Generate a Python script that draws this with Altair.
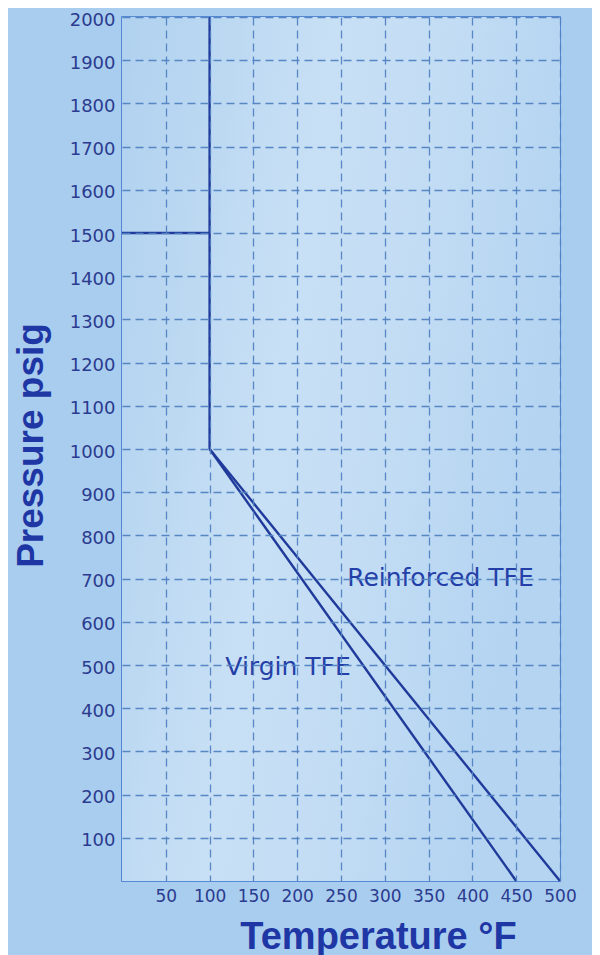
import altair as alt
import pandas as pd

# Pressure–temperature rating curves
seg_names = ["Limit", "Limit", "Cap", "Cap", "Virgin TFE", "Virgin TFE", "Reinforced TFE", "Reinforced TFE"]
seg_temp = [100, 100, 0, 100, 100, 450, 100, 500]
seg_pressure = [2000, 1000, 1500, 1500, 1000, 0, 1000, 0]
seg_order = [0, 1, 0, 1, 0, 1, 0, 1]

label_text = ["Reinforced TFE", "Virgin TFE"]
label_temp = [257, 118]
label_pressure = [684, 478]

x_ticks = [50, 100, 150, 200, 250, 300, 350, 400, 450, 500]
y_ticks = list(range(100, 2001, 100))

df = pd.DataFrame({"seg": seg_names, "temp": seg_temp, "pressure": seg_pressure, "o": seg_order})
lab = pd.DataFrame({"text": label_text, "temp": label_temp, "pressure": label_pressure})

label_color = "#2b3b8f"
title_color = "#1f36a5"
line_color = "#1f3a9a"
grid_color = "#5282c2"

x_scale = alt.Scale(domain=[0, 500], nice=False, zero=True)
y_scale = alt.Scale(domain=[0, 2000], nice=False, zero=True)

x_axis = alt.Axis(
    values=x_ticks, title="Temperature °F", domain=False, ticks=False, format="d",
    grid=True, gridColor=grid_color, gridDash=[8, 5], gridWidth=1.3, gridOpacity=0.95,
    labelFont="DejaVu Sans", labelFontSize=17, labelColor=label_color, labelPadding=7,
    labelFlush=False, labelOverlap=False, zindex=1,
    titleFont="Liberation Sans", titleFontWeight="bold", titleFontSize=38, titleColor=title_color,
    titleAnchor="start", titleAlign="center", titleX=256, titleY=67, titleBaseline="alphabetic",
)
y_axis = alt.Axis(
    values=y_ticks, title="Pressure psig", domain=False, ticks=False, format="d",
    grid=True, gridColor=grid_color, gridDash=[8, 5], gridWidth=1.3, gridOpacity=0.95,
    labelFont="DejaVu Sans", labelFontSize=18, labelColor=label_color, labelPadding=7,
    labelOffset=3, labelFlush=False, labelOverlap=False, zindex=1,
    titleFont="Liberation Sans", titleFontWeight="bold", titleFontSize=37, titleColor=title_color,
    titleAngle=270, titleAlign="center", titleBaseline="alphabetic", titleX=-80, titleY=428,
)

bg = alt.Chart(pd.DataFrame({"a": [0]})).mark_rect(
    color=alt.LinearGradient(
        gradient="linear", x1=0, x2=1, y1=0, y2=0.3,
        stops=[
            alt.GradientStop(offset=0, color="#b0d1ef"),
            alt.GradientStop(offset=0.45, color="#c8e0f5"),
            alt.GradientStop(offset=0.7, color="#c2dcf4"),
            alt.GradientStop(offset=1, color="#b4d4f1"),
        ],
    )
).encode(
    x=alt.datum(0, scale=x_scale, axis=x_axis),
    x2=alt.datum(500),
    y=alt.datum(0, scale=y_scale, axis=y_axis),
    y2=alt.datum(2000),
)

lines = alt.Chart(df).mark_line(color=line_color, strokeWidth=2.4).encode(
    x=alt.X("temp:Q", scale=x_scale, axis=x_axis),
    y=alt.Y("pressure:Q", scale=y_scale, axis=y_axis),
    detail="seg:N",
    order="o:Q",
)

labels = alt.Chart(lab).mark_text(
    align="left", baseline="alphabetic", font="DejaVu Sans", fontSize=25, color="#2440a8"
).encode(
    x=alt.X("temp:Q", scale=x_scale),
    y=alt.Y("pressure:Q", scale=y_scale),
    text="text:N",
)

chart = alt.layer(bg, lines, labels).properties(
    width=438, height=864,
    autosize=alt.AutoSizeParams(type="none"),
    padding={"left": 114, "top": 9, "right": 32, "bottom": 75},
    background="#a9cdee",
).configure_view(
    stroke="#3d74cc", strokeWidth=1.6,
)

chart.save("out.html", embed_options={"renderer": "svg", "actions": False})
